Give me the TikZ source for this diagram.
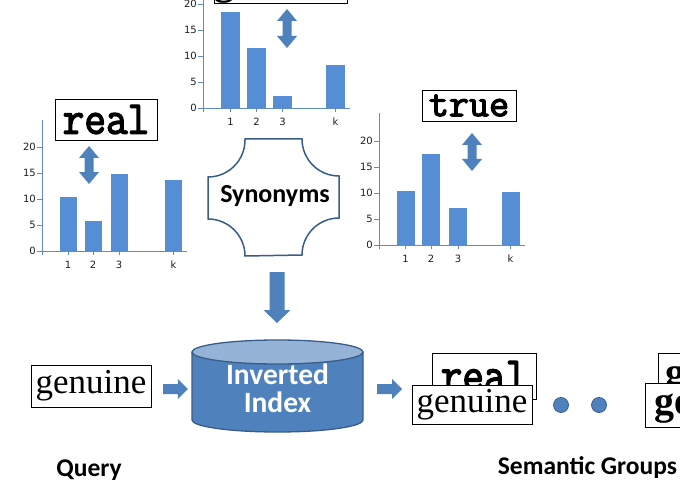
\documentclass[tikz,border=0pt]{standalone}
\usepackage{fontspec}
\usepackage{graphicx}
\setmainfont{Carlito}
\newfontfamily\monofam{Latin Modern Mono}[FakeBold=3]
\newfontfamily\seriffam{Liberation Serif}
\newfontfamily\axisfam{DejaVu Sans}
\usetikzlibrary{calc}
\definecolor{barblue}{RGB}{85,142,213}
\definecolor{arrblue}{RGB}{79,129,189}
\definecolor{axisblue}{RGB}{95,140,200}
\definecolor{darkblue}{RGB}{56,93,138}
\definecolor{topblue}{RGB}{149,179,215}
\definecolor{ticktext}{RGB}{30,30,40}
\tikzset{
  barfill/.style={fill=barblue},
  axisline/.style={draw=axisblue, line width=0.9pt},
  ticklbl/.style={font=\axisfam\fontsize{10}{11}\selectfont, text=ticktext, inner sep=0pt},
  wordbox/.style={draw=black, line width=0.8pt, fill=white, inner sep=0pt, outer sep=0pt},
  arrowfill/.style={fill=arrblue},
  caption/.style={font=\bfseries\fontsize{25.5}{28}\selectfont, inner sep=0pt},
  monoword/.style={font=\monofam\fontsize{42}{42}\selectfont},
  serifword/.style={font=\seriffam\fontsize{35}{35}\selectfont},
  boldserifword/.style={font=\seriffam\bfseries\fontsize{40}{40}\selectfont},
}
% #1 prefix, #2 axis x, #3 zero y, #4 top y, #5 x-axis right end, #6 bars cx/val/lbl, #7 bar width
\newcommand\barchart[7]{%
  \foreach \cx/\val/\lb [count=\i] in {#6} {
    \fill[barfill] (\cx-#7/2,#3) rectangle (\cx+#7/2,#3-\val*5.2);
    \draw[axisline] (\cx,#3) -- (\cx,#3+4);
    \node[ticklbl] (#1x\i) at (\cx,#3+14) {\lb};
  }
  \draw[axisline] (#2,#4) -- (#2,#3+4);
  \draw[axisline] (#2-2,#3) -- (#5,#3);
  \foreach \v in {0,5,...,20} {
    \draw[axisline] (#2-5,#3-\v*5.2) -- (#2,#3-\v*5.2);
    \node[ticklbl, anchor=east] (#1y\v) at (#2-6,#3-\v*5.2) {\v};
  }
}
\newcommand\dblarrow[3]{% x, top y, bottom y
  \fill[arrowfill] (#1,#2) -- (#1+10,#2+12) -- (#1+4.5,#2+12) -- (#1+4.5,#3-12) -- (#1+10,#3-12)
    -- (#1,#3) -- (#1-10,#3-12) -- (#1-4.5,#3-12) -- (#1-4.5,#2+12) -- (#1-10,#2+12) -- cycle;}
\newcommand\harrow[2]{%
  \fill[arrowfill] let \p1=(#1), \p2=(#2) in (\x1,\y1+5pt) -- (\x2-10pt,\y1+5pt) -- (\x2-10pt,\y1+10pt)
    -- (\x2,\y1) -- (\x2-10pt,\y1-10pt) -- (\x2-10pt,\y1-5pt) -- (\x1,\y1-5pt) -- cycle;}
\newcommand\varrow[2]{%
  \fill[arrowfill] let \p1=(#1), \p2=(#2) in (\x1-7.5pt,\y1) -- (\x1+7.5pt,\y1) -- (\x1+7.5pt,\y2+13pt)
    -- (\x1+13.5pt,\y2+13pt) -- (\x1,\y2) -- (\x1-13.5pt,\y2+13pt) -- (\x1-7.5pt,\y2+13pt) -- cycle;}
\begin{document}
\begin{tikzpicture}[x=1pt,y=-1pt]
\useasboundingbox (0,0) rectangle (680,500);
\fill[white] (0,0) rectangle (680,500);
\clip (0,0) rectangle (680,500);

% ---- charts
\barchart{top}{203}{108}{-5}{350}{230.5/18.5/1,256.5/11.5/2,282.5/2.3/3,335.5/8.3/k}{19}
\barchart{left}{42}{251}{120}{187}{68/10.4/1,93/5.8/2,119/14.8/3,173.5/13.7/k}{17}
\barchart{right}{379}{245}{113}{525}{405.5/10.3/1,431/17.5/2,458/7.2/3,510.5/10.1/k}{18}

% ---- word boxes above charts
\node[wordbox, minimum width=120pt, minimum height=42pt, anchor=south west, boldserifword, text depth=3pt] (topword) at (214,3) {genuine};
\node[wordbox, minimum width=102pt, minimum height=41pt, anchor=north west, monoword] (realword) at (55,99) {\scalebox{1}[1.12]{real}};
\node[wordbox, minimum width=94pt, minimum height=31pt, anchor=north west, monoword, font=\monofam\fontsize{39}{39}\selectfont] (trueword) at (422,90) {true};

\dblarrow{287}{9}{48}
\dblarrow{89}{146}{184}
\dblarrow{472}{133}{171}

% ---- synonyms shape
\draw[draw=darkblue, line width=1.5pt, fill=white]
  (245,139) -- (302,139) arc[start angle=180, end angle=90, radius=37]
  -- (339,218) arc[start angle=-90, end angle=-180, radius=37]
  -- (245,256) arc[start angle=0, end angle=-90, radius=37]
  -- (208,177) arc[start angle=90, end angle=0, radius=37] -- cycle;
\coordinate (synbot) at (273.5,256);
\node[font=\bfseries\fontsize{26}{28}\selectfont, inner sep=0pt] (syn) at (275,196) {Synonyms};

% ---- inverted index cylinder
\fill[fill=arrblue] (192,352) -- (192,420) arc[start angle=180, end angle=0, x radius=85.5, y radius=12]
  -- (363,352) arc[start angle=0, end angle=-180, x radius=85.5, y radius=12] -- cycle;
\draw[draw=darkblue, line width=1.3pt] (192,352) -- (192,420) arc[start angle=180, end angle=0, x radius=85.5, y radius=12]
  -- (363,352);
\draw[draw=darkblue, line width=1.3pt, fill=topblue] (277.5,352) ellipse[x radius=85.5, y radius=12];
\coordinate (cyltop) at (277.5,340);
\node[minimum width=171pt, minimum height=80pt, inner sep=0pt, align=center, text=white,
  font=\bfseries\fontsize{29.5}{28}\selectfont] (index) at (277.5,388) {Inverted\\Index};

% ---- query
\node[wordbox, minimum width=120pt, minimum height=42pt, anchor=north west, serifword] (query) at (31,365) {genuine};

% ---- semantic groups
\node[wordbox, minimum width=104pt, minimum height=46pt, anchor=north west, monoword] (grpreal) at (432,353) {\scalebox{1}[1.15]{real}};
\node[wordbox, minimum width=120pt, minimum height=39pt, anchor=north west, serifword] (grpgen) at (412,385) {genuine};
\node[circle, fill=arrblue, draw=darkblue, line width=0.8pt, minimum size=15pt, inner sep=0pt] (dot1) at (561,405) {};
\node[circle, fill=arrblue, draw=darkblue, line width=0.8pt, minimum size=15pt, inner sep=0pt] (dot2) at (599,405) {};
\node[wordbox, minimum height=46pt, anchor=north west, inner xsep=7pt, boldserifword] (grpback) at (658,353) {genuine};
\node[wordbox, minimum height=44pt, anchor=north west, inner xsep=9pt, boldserifword] (grpfront) at (645,383) {genuine};

% ---- connectors
\coordinate (qa) at ($(query.east)+(12,3)$);
\coordinate (qb) at ($(index.west |- qa)+(-4,0)$);
\harrow{qa}{qb}
\coordinate (ia) at ($(index.east |- qa)+(14,0)$);
\coordinate (ib) at ($(grpgen.west |- qa)+(-10,0)$);
\harrow{ia}{ib}
\coordinate (sa) at ($(synbot)+(3.5,16)$);
\coordinate (sb) at ($(cyltop)+(0,-17)$);
\varrow{sa}{sb}

% ---- captions
\node[caption] (qlabel) at (89,470) {Query};
\node[caption] (sglabel) at (587.5,468) {Semantic Groups};
\end{tikzpicture}
\end{document}
